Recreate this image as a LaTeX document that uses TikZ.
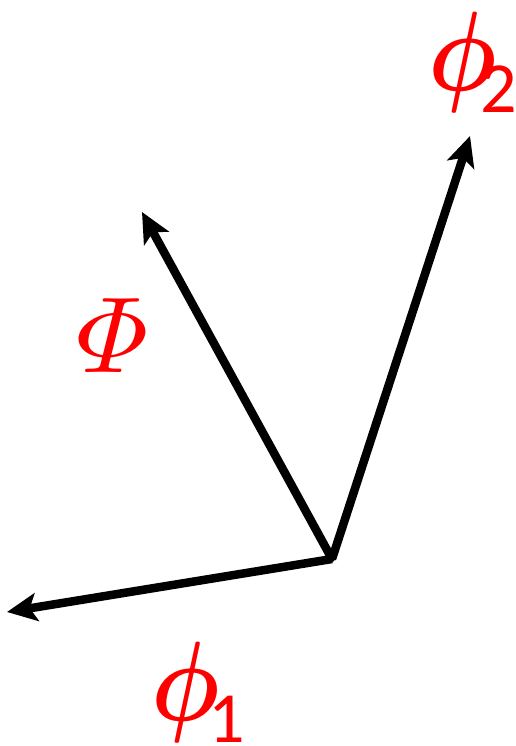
\documentclass[tikz,border=0pt]{standalone}
\usepackage{amsmath}
\usepackage{graphicx}
\usepackage{fontspec}
\newfontfamily\carlito{Carlito}
\usetikzlibrary{arrows.meta}
\newcommand{\bigphi}{\scalebox{9.6}[11.3]{\boldmath$\phi$}}
\newcommand{\bigPhi}{\scalebox{10.8}{$\varPhi$}}
\begin{document}
\begin{tikzpicture}[x=1pt,y=-1pt,
  vec/.style={line width=8.5pt,-{Stealth[length=30pt,width=28pt,inset=7pt]}},
  lbl/.style={text=red,inner sep=0pt},
  subl/.style={text=red,inner sep=0pt,anchor=base west,font=\fontsize{72}{72}\selectfont\carlito}]
\useasboundingbox (0,0) rectangle (515,746);
\coordinate (O) at (332,559);
\coordinate (A) at (142,212);
\coordinate (B) at (470,136);
\coordinate (C) at (7,612);
\draw[vec] (O) -- (A);
\draw[vec] (O) -- (B);
\draw[vec] (O) -- (C);
\fill (O) circle (3pt);
\node[lbl,anchor=south west] (p2) at (428,113) {\bigphi};
\node[subl] (s2) at (480,113) {2};
\node[lbl] (P) at (112,336) {\bigPhi};
\node[lbl,anchor=south west] (p1) at (151,743) {\bigphi};
\node[subl] (s1) at (208,742) {1};
\end{tikzpicture}
\end{document}
